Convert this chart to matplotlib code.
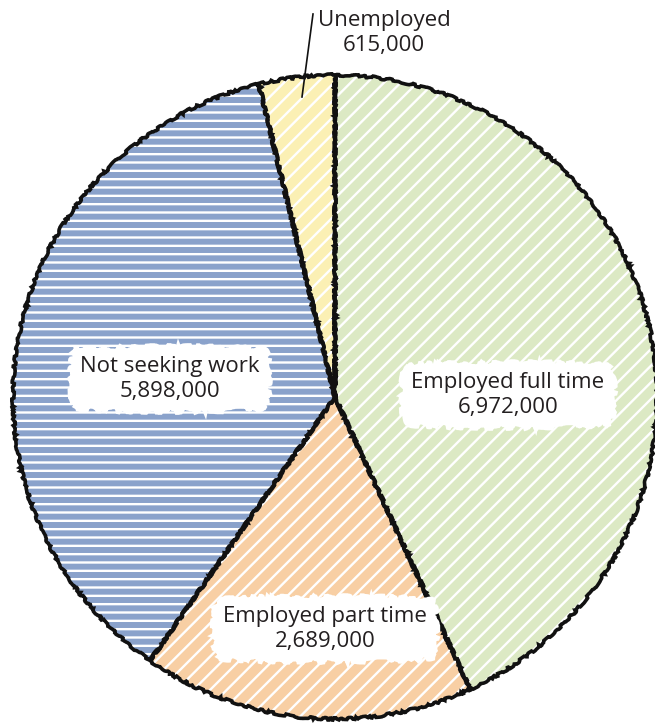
import matplotlib.pyplot as plt
import numpy as np

labels = ["Employed full time", "Employed part time", "Not seeking work", "Unemployed"]
values = [6972000, 2689000, 5898000, 615000]
colors = ["#dce9c4", "#f8cfa4", "#8aa2cb", "#fbf0b4"]
hatches = ["//", "//", "--", "//"]

plt.rcParams['font.family'] = ['Open Sans', 'DejaVu Sans']
plt.rcParams['hatch.linewidth'] = 1.7

fig = plt.figure(figsize=(6.55, 7.27), dpi=100)
ax = fig.add_axes([0, 0, 1, 1])

cx, cy, r = 335, 330, 322

# coloured fill with white scribble hatching
wedges, _ = ax.pie(values, colors=colors, startangle=90, counterclock=False,
                   center=(cx, cy), radius=r, frame=True,
                   wedgeprops=dict(edgecolor="white", linewidth=0))
for w, h in zip(wedges, hatches):
    w.set_hatch(h)

# sketchy black outline
outl, _ = ax.pie(values, colors=["none"] * 4, startangle=90, counterclock=False,
                 center=(cx, cy), radius=r, frame=True,
                 wedgeprops=dict(edgecolor="#111111", linewidth=2.6, fill=False))
for w in outl:
    w.set_sketch_params(scale=1.2, length=25, randomness=15)

def fmt(v):
    return f"{v:,}"

box = dict(boxstyle="round4,pad=0.45", fc="white", ec="white", lw=3)
pos = {0: (508, 332), 1: (325, 98), 2: (170, 348)}
for i, (x, y) in pos.items():
    t = ax.text(x, y, labels[i] + "\n" + fmt(values[i]), ha="center", va="center",
                multialignment="center", fontsize=16, color="#231f20",
                linespacing=1.2, bbox=box)
    t.get_bbox_patch().set_sketch_params(scale=2.5, length=60, randomness=30)

# unemployed label with leader line
ax.text(384, 694, labels[3] + "\n" + fmt(values[3]), ha="center", va="center",
        fontsize=16, color="#231f20", linespacing=1.2)
ax.plot([313, 302], [713, 630], color="#111111", lw=1.2)

ax.set_xlim(0, 655)
ax.set_ylim(0, 727)
ax.set_aspect("auto")
ax.axis("off")

fig.savefig("out.png", dpi=100)
